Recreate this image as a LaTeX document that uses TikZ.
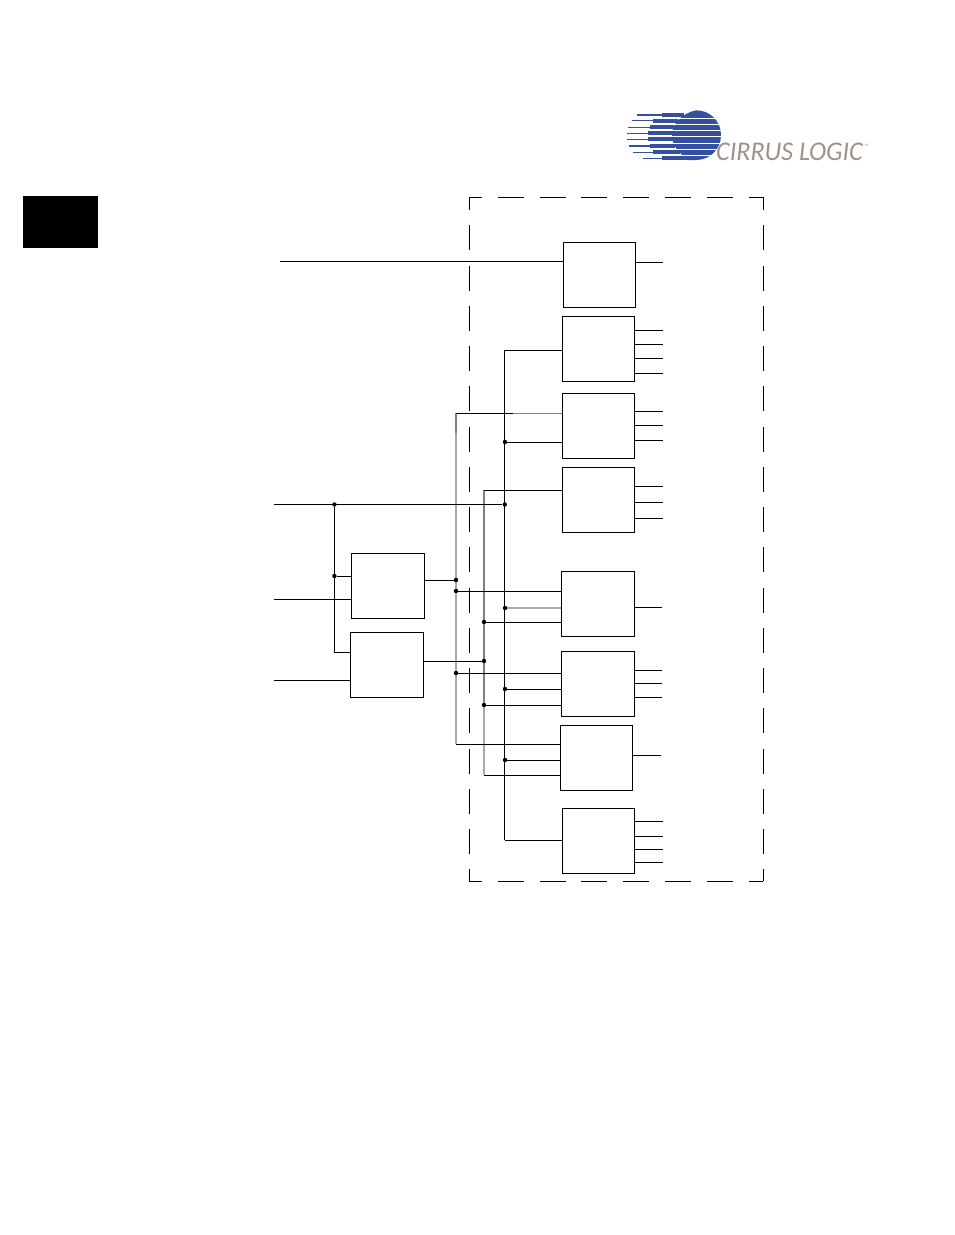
\documentclass[tikz,border=0pt]{standalone}
\usepackage{fontspec}
\setmainfont{Carlito}
\definecolor{logoblue}{HTML}{34509F}
\definecolor{logotext}{HTML}{9E9188}
\definecolor{busgrey}{HTML}{A8A8A8}
\definecolor{busdark}{HTML}{808080}
\tikzset{
  x=1pt,y=-1pt,
  blk/.style={draw=black,line width=1pt,rectangle,inner sep=0pt,outer sep=0pt,fill=none},
  conn/.style={draw=black,line width=1pt},
  busg/.style={draw=busgrey,line width=1.6pt},
  busd/.style={draw=busdark,line width=1.2pt},
  jdot/.style={circle,fill=black,inner sep=0pt,minimum size=4.4pt},
  stripe/.style={draw=logoblue,line cap=butt},
  frameh/.style={draw=black,line width=1pt,dash pattern=on 26pt off 15.8pt,dash phase=13pt},
  framev/.style={draw=black,line width=1pt,dash pattern=on 25pt off 15.25pt,dash phase=12pt}
}
\begin{document}
\begin{tikzpicture}
\useasboundingbox (0,0) rectangle (954,1235);
% black tab
\node[rectangle,fill=black,inner sep=0pt,minimum width=75pt,minimum height=52pt] (tab) at (60.5,222) {};
% logo
\fill[logoblue] (696,110.3) .. controls (710,110.3) and (721,121) .. (721,135) .. controls (721,149) and (710,160) .. (696,160) -- (688,160) .. controls (678,152) and (672,145) .. (672,135) .. controls (672,125) and (680,114) .. (696,110.3) -- cycle;
\foreach \y in {118,124,130.5,136.7,143,149.2,155.3}
  \draw[white,line width=.8pt] (660,\y) -- (724,\y);
\foreach \y/\a/\b/\c in {115/637/662/684,120.7/632/653/678,127.3/628/650/674,133.3/627/648/673,139.3/627/648/673,146/629/650/675,152.3/633/653/680,158.3/643/662/690}{
  \draw[stripe,line width=1.4pt] (\a,\y) -- (\b,\y);
  \draw[stripe,line width=4pt] (\b,\y) -- (\c,\y);
}
\node[anchor=west,inner sep=0pt,text=logotext,font=\itshape\fontsize{27}{27}\selectfont,xscale=.965] (logotxt) at (716,152) {CIRRUS LOGIC};
\node[anchor=center,inner sep=0pt,text=logotext,font=\fontsize{8}{8}\selectfont] (logoreg) at (867.5,146.5) {®};
% dashed frame
\coordinate (fa) at (469,197);
\coordinate (fb) at (763,197);
\coordinate (fc) at (763,881);
\coordinate (fd) at (469,881);
\draw[frameh] (fa) -- (fb);
\draw[frameh] (fd) -- (fc);
\draw[framev] (fa) -- (fd);
\draw[framev] (fb) -- (fc);
% blocks
\node[blk,minimum width=72pt,minimum height=65pt] (B1) at (599,274.5) {};
\node[blk,minimum width=72pt,minimum height=65pt] (B2) at (598,348.5) {};
\node[blk,minimum width=72pt,minimum height=65pt] (B3) at (598,425.5) {};
\node[blk,minimum width=72pt,minimum height=65pt] (B4) at (598,499.5) {};
\node[blk,minimum width=73pt,minimum height=65pt] (B5) at (597.5,603.5) {};
\node[blk,minimum width=73pt,minimum height=65pt] (B6) at (597.5,683.5) {};
\node[blk,minimum width=72pt,minimum height=65pt] (B7) at (596,757.5) {};
\node[blk,minimum width=72pt,minimum height=65pt] (B8) at (598,840.5) {};
\node[blk,minimum width=73pt,minimum height=65pt] (L1) at (387.5,585.5) {};
\node[blk,minimum width=73pt,minimum height=65pt] (L2) at (386.5,664.5) {};
% output stubs
\foreach \n/\y/\x in {B1/262/663,B2/330/663,B2/344/663,B2/358/663,B2/373/663,B3/411/663,B3/425/663,B3/440/663,B4/486/663,B4/502/663,B4/518/663,B5/607/662,B6/670/662,B6/683/662,B6/697/662,B7/755/661,B8/821/663,B8/836/663,B8/849/663,B8/862/663}{
  \coordinate (out\n\y) at (\x,\y);
  \draw[conn] (\n.east |- out\n\y) -- (out\n\y);
}
% buses
\coordinate (ba) at (456,413);
\coordinate (bb) at (456,433);
\coordinate (bc) at (456,744);
\coordinate (bd) at (484,490);
\coordinate (be) at (484,705);
\coordinate (bf) at (484,775);
\coordinate (bg) at (504.7,350);
\coordinate (bh) at (504.7,840);
\draw[busd] (ba) -- (bb);
\draw[busg] (bb) -- (bc);
\draw[busd] (bd) -- (be);
\draw[busg] (be) -- (bf);
% junction dots
\foreach \nm/\x/\y in {ja/334.4/504.5,jb/334.4/576,jc/504.8/504.5,jd/505/442,je/505/608,jf/505/689,jg/505/760,jh/456/580,ji/456/591,jj/456/673,jk/484/622,jl/484/661,jm/484/705}
  \node[jdot] (\nm) at (\x,\y) {};
% free ends on the left
\coordinate (ia) at (280,261);
\coordinate (ib) at (274,504.5);
\coordinate (ic) at (274,599);
\coordinate (id) at (274,680);
% top-level wires
\draw[conn] (ia) -- (B1.west |- ia);
\draw[conn] (ib) -- (jc);
\draw[conn] (ic) -- (L1.west |- ic);
\draw[conn] (id) -- (L2.west |- id);
\draw[conn] (ja) -- (ja |- 0,652) -- (L2.west |- 0,652);
\draw[conn] (jb) -- (L1.west |- jb);
\draw[conn] (L1.east |- jh) -- (jh);
\draw[conn] (L2.east |- jl) -- (jl);
\draw[conn] (bg) -- (bh);
\draw[conn] (bg) -- (B2.west |- bg);
\draw[conn] (bh) -- (B8.west |- bh);
\coordinate (hm) at (513,413);
\draw[conn,line width=.9pt] (ba) -- (hm);
\draw[busd,line width=1pt] (hm) -- (B3.west |- hm);
\draw[conn] (jd) -- (B3.west |- jd);
\draw[conn] (bd) -- (B4.west |- bd);
\draw[conn] (ji) -- (B5.west |- ji);
\draw[busg] (je) -- (B5.west |- je);
\draw[conn] (jk) -- (B5.west |- jk);
\draw[conn] (jj) -- (B6.west |- jj);
\draw[conn] (jf) -- (B6.west |- jf);
\draw[conn] (jm) -- (B6.west |- jm);
\draw[conn] (bc) -- (B7.west |- bc);
\draw[conn] (jg) -- (B7.west |- jg);
\draw[conn] (bf) -- (B7.west |- bf);
\end{tikzpicture}
\end{document}
